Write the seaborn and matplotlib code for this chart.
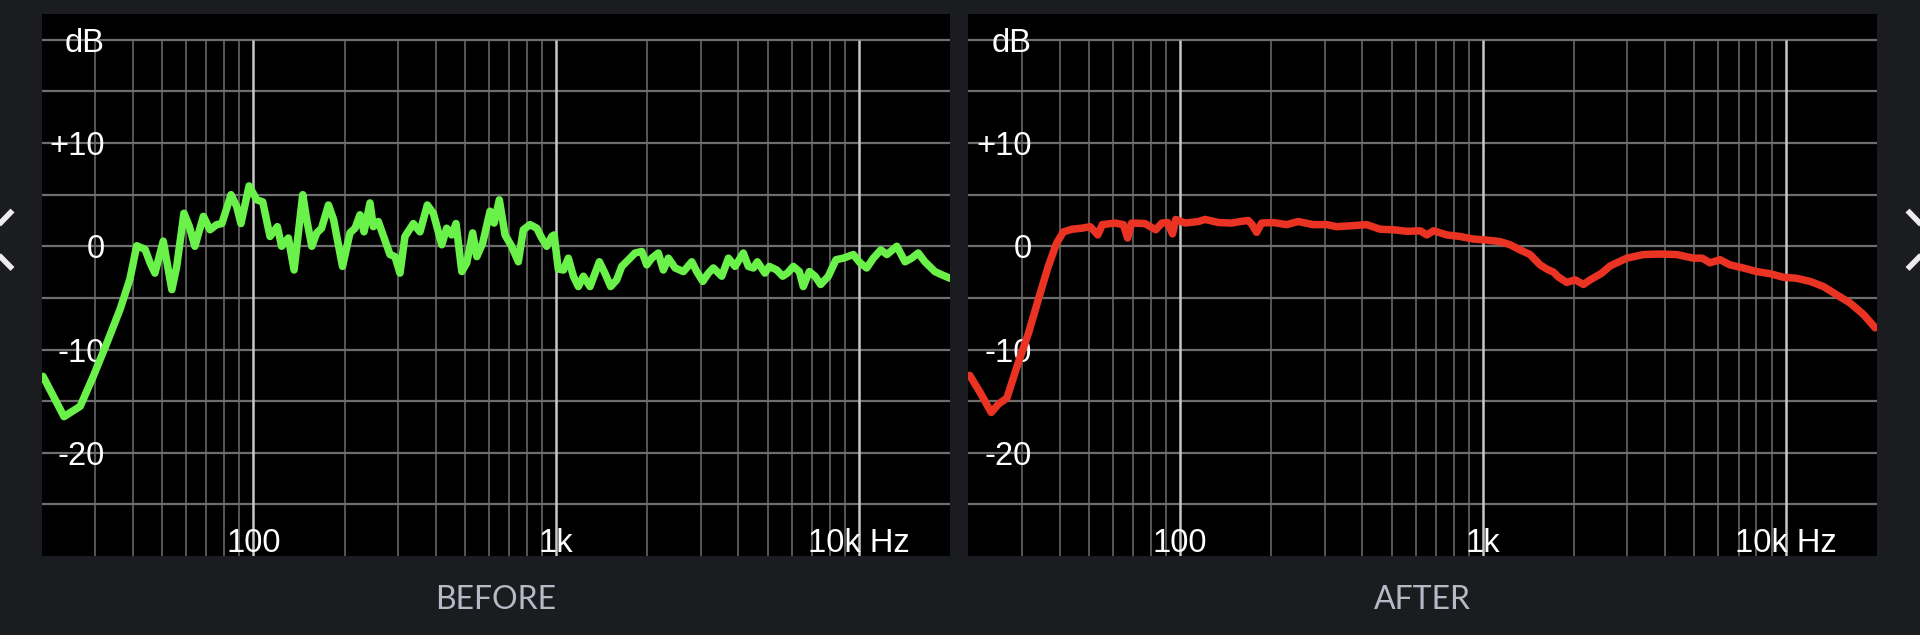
import matplotlib
matplotlib.use("Agg")
import matplotlib.pyplot as plt
from matplotlib.lines import Line2D
import pandas as pd
import seaborn as sns

# response curves (Hz, dB)
before_freq = [20.2, 23.7, 26.8, 29.6, 32.8, 36.3, 39.1, 41.2, 43.9, 45.6, 47.3, 50.4, 53.8, 55.8,
               59.0, 61.5, 64.1, 68.4, 71.9, 75.7, 78.7, 84.4, 88.1, 91.0, 96.8, 102.6, 107.4, 113.5,
               120, 124, 130.5, 136.3, 145.6, 150, 156, 162, 168, 177, 184, 197, 208.5, 216.7,
               225, 232, 242.8, 249, 258.6, 272, 282.7, 293.6, 305, 316.7, 337.6, 355, 375.5, 393,
               419, 435, 452, 467, 488, 507, 530, 547, 572, 605, 624, 649, 678, 713, 750, 779,
               820, 863, 896, 931, 967, 985, 1016, 1057, 1097, 1140, 1184, 1230, 1294, 1389, 1449,
               1514, 1585, 1647, 1754, 1822, 1918, 1992, 2069, 2175, 2259, 2348, 2471, 2633, 2805,
               2913, 3050, 3183, 3304, 3523, 3706, 3899, 4151, 4313, 4480, 4618, 4893, 5058, 5354,
               5600, 5803, 6072, 6355, 6549, 6857, 7161, 7474, 7924, 8400, 8883, 9580, 10080,
               10610, 11160, 11810, 12370, 13340, 14200, 14930, 15700, 16510, 17820, 18740, 19990]
before_db = [-12.6, -16.5, -15.5, -12.6, -9.4, -6.1, -3.2, 0.05, -0.3, -1.6, -2.6, 0.5, -4.2, -2.0,
             3.2, 1.9, 0.0, 2.9, 1.6, 2.1, 2.2, 5.0, 3.85, 2.2, 5.85, 4.5, 4.3, 0.95,
             1.9, 0.0, 0.8, -2.3, 5.0, 2.6, 0.0, 1.3, 1.75, 4.0, 2.6, -1.95, 1.3, 1.75,
             3.05, 1.4, 4.2, 1.9, 2.4, 0.6, -0.8, -1.0, -2.6, 0.95, 2.2, 1.4, 4.0, 3.2,
             0.15, 1.75, 1.1, 2.2, -2.45, -1.6, 1.3, -1.0, 0.3, 3.4, 2.25, 4.5, 1.1, 0.0, -1.5, 1.6,
             2.1, 1.75, 0.8, 0.0, 0.95, 1.1, -2.2, -2.3, -1.15, -2.9, -3.9, -2.9, -3.9, -1.5, -2.6,
             -3.9, -3.25, -1.95, -1.15, -0.65, -0.5, -1.8, -1.15, -0.65, -2.3, -1.15, -2.1, -2.45, -1.5,
             -2.45, -3.4, -2.6, -2.1, -2.9, -1.15, -1.95, -0.65, -1.95, -2.1, -1.5, -2.6, -1.95, -2.3,
             -2.9, -2.6, -1.95, -2.45, -3.9, -2.45, -2.9, -3.7, -2.9, -1.3, -1.15, -0.8, -1.6,
             -2.1, -1.15, -0.35, -0.8, 0.0, -1.5, -1.15, -0.65, -1.5, -2.45, -2.75, -3.1]

after_freq = [20.2, 21.9, 23.8, 25.1, 26.8, 29.2, 31.6, 34.0, 36.7, 39.1, 41.2, 43.9, 47.3, 50.5,
              53.5, 55.4, 61, 65, 67.1, 69.2, 76.6, 83.1, 87.1, 91, 94.4, 96.8, 104, 114.9, 121,
              134, 148, 158, 168, 173, 179, 186, 203, 225, 245.6, 275, 305, 329, 373, 413, 458,
              507, 561, 621, 653, 687, 760, 841, 931, 1031, 1140, 1230, 1327, 1432, 1545, 1625,
              1710, 1780, 1893, 2018, 2149, 2261, 2471, 2633, 2988, 3391, 3849, 4369, 4959, 5300,
              5627, 6072, 6549, 7248, 8021, 8874, 9822, 10870, 12040, 13330, 14750, 16330, 18070,
              19770]
after_db = [-12.5, -14.2, -16.1, -15.3, -14.7, -11.3, -8.4, -5.2, -1.95, 0.3, 1.4, 1.65, 1.75, 1.9,
            1.1, 2.1, 2.25, 2.1, 0.8, 2.25, 2.2, 1.6, 2.25, 2.3, 1.2, 2.6, 2.25, 2.4, 2.6,
            2.3, 2.25, 2.4, 2.5, 2.1, 1.35, 2.25, 2.3, 2.1, 2.4, 2.1, 2.1, 1.9, 2.0, 2.1, 1.65,
            1.6, 1.45, 1.5, 1.1, 1.5, 1.1, 0.95, 0.7, 0.6, 0.45, 0.15, -0.35, -0.8, -1.8, -2.2,
            -2.5, -3.0, -3.5, -3.25, -3.7, -3.25, -2.6, -1.9, -1.15, -0.8, -0.75, -0.8, -1.15, -1.15,
            -1.6, -1.3, -1.8, -2.1, -2.45, -2.65, -3.0, -3.1, -3.4, -3.9, -4.7, -5.5, -6.6,
            -7.9]

db_ticks = [20, 10, 0, -10, -20]
db_labels = ["dB", "+10", "0", "-10", "-20"]
hz_ticks = [100, 1000, 10000]
hz_labels = ["100", "1k", "10k Hz"]
panel_titles = ["BEFORE", "AFTER"]

grid_db = [-25, -20, -15, -10, -5, 0, 5, 10, 15, 20]
grid_minor_hz = [30, 40, 50, 60, 70, 80, 90, 200, 300, 400, 500, 600, 700, 800, 900,
                 2000, 3000, 4000, 5000, 6000, 7000, 8000, 9000]

BG = "#1b1c20"
W, H = 1920, 635

sns.set_theme(style="dark")
plt.rcParams["font.family"] = ["Liberation Sans", "DejaVu Sans"]

fig = plt.figure(figsize=(19.2, 6.35), dpi=100, facecolor=BG)


def px_rect(x0, x1, top, bottom):
    return [x0 / W, 1 - bottom / H, (x1 - x0) / W, (bottom - top) / H]


panels = [
    (px_rect(41.7, 950.1, 14, 556), before_freq, before_db, "#6af24a"),
    (px_rect(968.4, 1876.8, 14, 556), after_freq, after_db, "#ea3323"),
]

for (rect, freq, db, color), title in zip(panels, panel_titles):
    ax = fig.add_axes(rect)
    ax.set_facecolor("black")
    ax.set_xscale("log")
    ax.set_xlim(20, 20000)
    ax.set_ylim(-30, 22.5)
    for s in ax.spines.values():
        s.set_visible(False)
    ax.set_xticks([])
    ax.set_yticks([])
    ax.minorticks_off()
    ax.grid(False)

    for g in grid_db:
        ax.axhline(g, color="#6e6e6e", lw=1.6, zorder=1)
    ax.vlines(grid_minor_hz, -30, 20, color="#6e6e6e", lw=1.1, zorder=1)
    ax.vlines(hz_ticks, -30, 20, color="#c8c8c8", lw=1.8, zorder=1)

    for v, lab in zip(db_ticks, db_labels):
        ax.text(0.0694, v, lab, transform=ax.get_yaxis_transform(), ha="right",
                va="center_baseline", color="white", fontsize=23.5, zorder=3)
    for f, lab in zip(hz_ticks, hz_labels):
        ax.text(f, 0.0295, lab, transform=ax.get_xaxis_transform(), ha="center",
                va="center_baseline", color="white", fontsize=23.5, zorder=3)

    df = pd.DataFrame({"freq": freq, "db": db})
    sns.lineplot(data=df, x="freq", y="db", ax=ax, color=color, lw=5.4,
                 estimator=None, sort=False, zorder=4,
                 solid_joinstyle="round", solid_capstyle="round")
    ax.set_xlabel("")
    ax.set_ylabel("")

    cx = rect[0] + rect[2] / 2
    fig.text(cx, 1 - 597 / H, title, ha="center", va="center_baseline", color="#b4bbc6",
             fontsize=23, family=["Lato", "DejaVu Sans"])

# carousel arrows at the edges
for pts in ([(12.5, 210.5), (-16, 240), (12.5, 269)],
            [(1907.5, 210.5), (1936, 240), (1907.5, 269)]):
    xs = [p[0] / W for p in pts]
    ys = [1 - p[1] / H for p in pts]
    fig.add_artist(Line2D(xs, ys, transform=fig.transFigure, color="#ececec", lw=4,
                          solid_capstyle="butt"))

fig.savefig("out.png", dpi=100, facecolor=BG)
